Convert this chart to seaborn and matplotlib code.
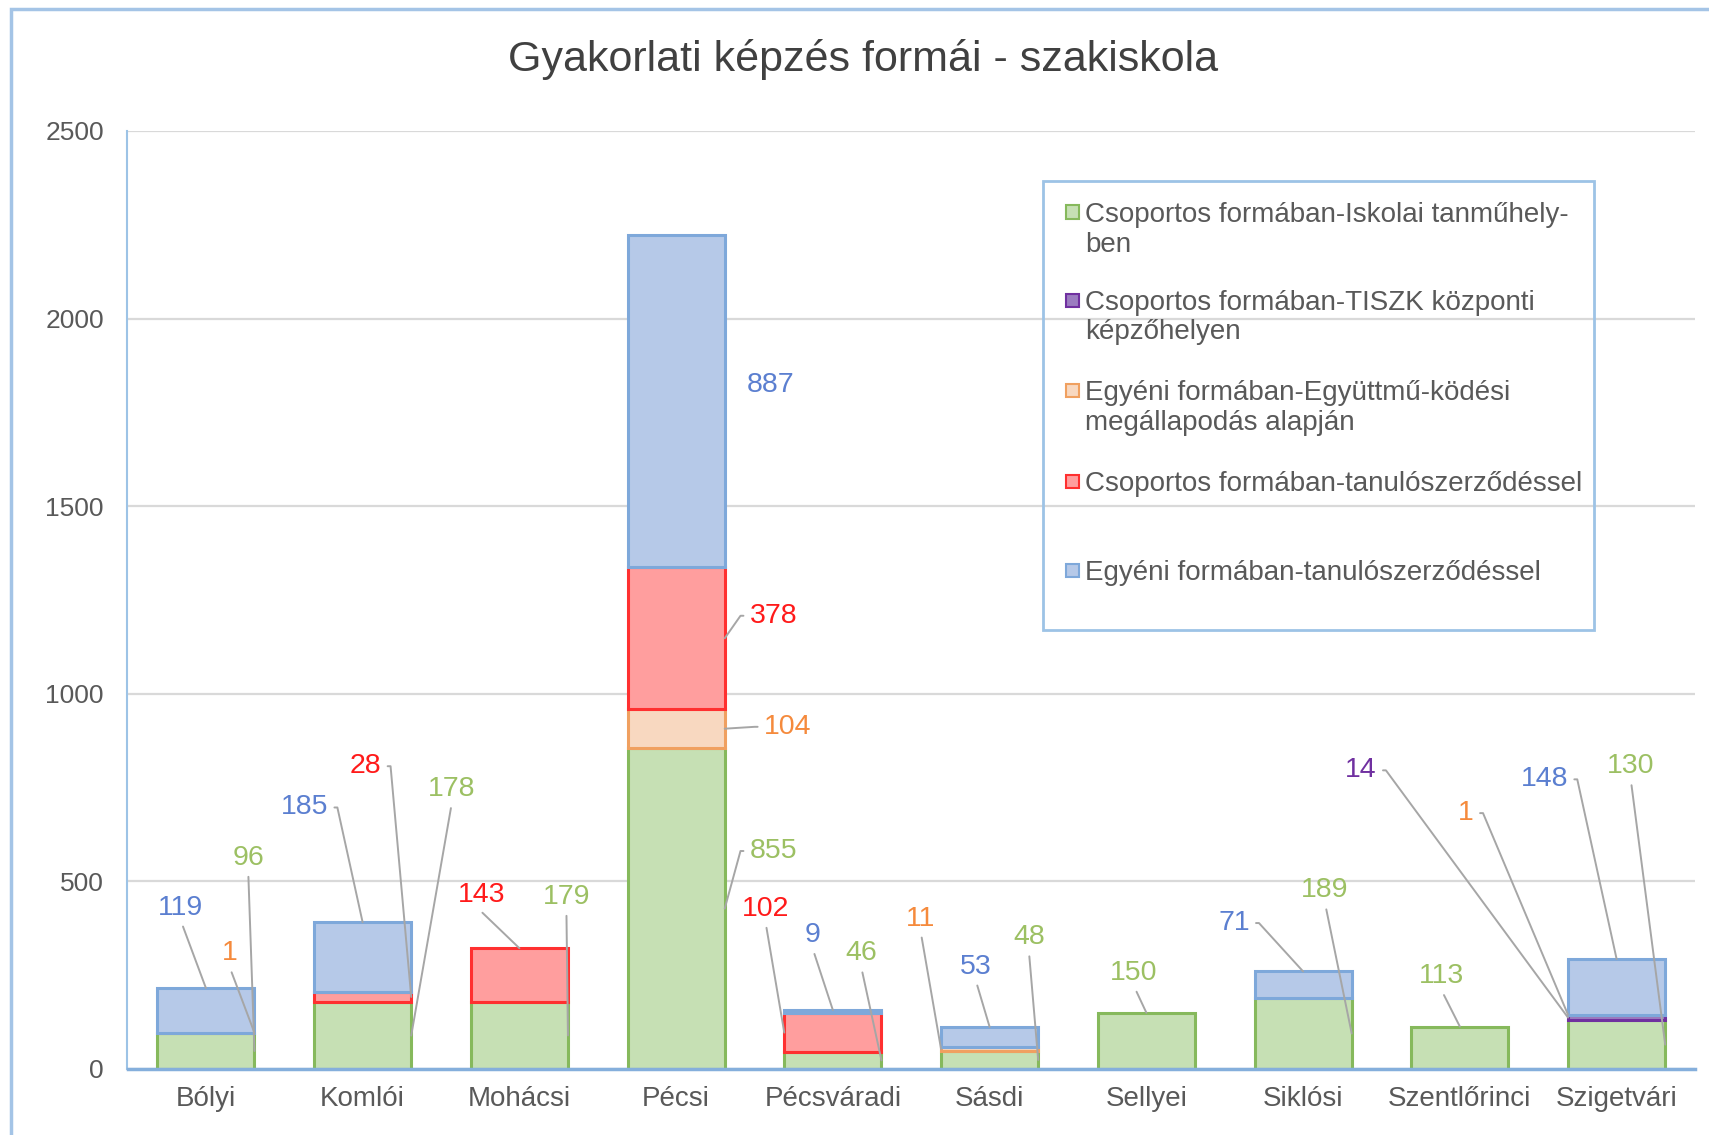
import numpy as np
import pandas as pd
import seaborn as sns
import matplotlib.pyplot as plt
from matplotlib.patches import Rectangle

CATEGORIES = ["Bólyi", "Komlói", "Mohácsi", "Pécsi", "Pécsváradi",
              "Sásdi", "Sellyei", "Siklósi", "Szentlőrinci", "Szigetvári"]
SERIES = [
    "Csoportos formában-Iskolai tanműhely-\nben",
    "Csoportos formában-TISZK központi\nképzőhelyen",
    "Egyéni formában-Együttmű-ködési\nmegállapodás alapján",
    "Csoportos formában-tanulószerződéssel",
    "Egyéni formában-tanulószerződéssel",
]
ISKOLAI = [96, 178, 179, 855, 46, 48, 150, 189, 113, 130]
TISZK = [0, 0, 0, 0, 0, 0, 0, 0, 0, 14]
EGYUTTMUKODESI = [1, 0, 0, 104, 0, 11, 0, 0, 0, 1]
CSOPORTOS_TSZ = [0, 28, 143, 378, 102, 0, 0, 0, 0, 0]
EGYENI_TSZ = [119, 185, 0, 887, 9, 53, 0, 71, 0, 148]
LAYERS = [ISKOLAI, TISZK, EGYUTTMUKODESI, CSOPORTOS_TSZ, EGYENI_TSZ]

FILLS = ["#c6e0b4", "#9b7cc0", "#f8d8c0", "#ff9e9e", "#b6c9e8"]
EDGES = ["#86b95c", "#7030a0", "#f0a060", "#ff3030", "#7ea8da"]
TEXT_COLORS = ["#9cc063", "#7030a0", "#f58a3c", "#ff1a1a", "#5b7fd0"]

# label layout: (category, series, label x, label y, anchor, relpos, stub angle)
LABEL_LAYOUT = [
    (0, 4, -0.16, 430, "top", (0.5, 0), None),
    (0, 2, 0.15, 308, "right", (0.5, 0), None),
    (0, 0, 0.27, 563, "right", (0.5, 0), None),
    (1, 4, 0.63, 697, "top", (1, 0.5), 0),
    (1, 3, 1.02, 807, "right", (1, 0.5), 0),
    (1, 0, 1.57, 746, "right", (0.5, 0), None),
    (2, 3, 1.76, 465, "top", (0.4, 0), None),
    (2, 0, 2.30, 459, "right", (0.5, 0), None),
    (3, 4, 3.60, 1824, None, None, None),
    (3, 3, 3.62, 1208, "right", (0, 0.5), 180),
    (3, 2, 3.71, 912, "right", (0, 0.5), 180),
    (3, 0, 3.62, 581, "right", (0, 0.5), 180),
    (4, 3, 3.57, 427, "left", (0.5, 0), None),
    (4, 4, 3.87, 357, "top", (0.5, 0), None),
    (4, 0, 4.18, 308, "right", (0.5, 0), None),
    (5, 2, 4.56, 401, "left", (0.5, 0), None),
    (5, 4, 4.91, 273, "top", (0.5, 0), None),
    (5, 0, 5.25, 351, "right", (0.5, 0), None),
    (6, 0, 5.92, 256, "top", (0.5, 0), None),
    (7, 4, 6.56, 389, "top", (1, 0.5), 0),
    (7, 0, 7.14, 476, "right", (0.5, 0), None),
    (8, 0, 7.88, 247, "top", (0.5, 0), None),
    (9, 1, 7.37, 796, "left", (1, 0.5), 0),
    (9, 2, 8.04, 682, "left", (1, 0.5), 0),
    (9, 4, 8.54, 772, "top", (1, 0.5), 0),
    (9, 0, 9.09, 807, "right", (0.5, 0), None),
]

W, H = 1709, 1135
BAR_W = 0.62

sns.set_theme(style="white")
plt.rcParams["font.family"] = ["Liberation Sans", "DejaVu Sans"]

fig = plt.figure(figsize=(W / 100, H / 100), dpi=100)
ax = fig.add_axes([127.5 / W, 1 - 1069 / H, (1695 - 127.5) / W, (1069 - 131) / H])

bottom = np.zeros(len(CATEGORIES))
bottoms = []
for vals, fill, edge in zip(LAYERS, FILLS, EDGES):
    df = pd.DataFrame({"Iskola": CATEGORIES, "Létszám": vals})
    sns.barplot(data=df, x="Iskola", y="Létszám", order=CATEGORIES, color=fill,
                edgecolor=edge, linewidth=2.2, width=BAR_W, saturation=1,
                errorbar=None, bottom=bottom, ax=ax)
    for patch, v in zip(ax.containers[-1], vals):
        if v == 0:
            patch.set_visible(False)
    bottoms.append(bottom.copy())
    bottom = bottom + np.array(vals)

ax.set_xlim(-0.5, len(CATEGORIES) - 0.5)
ax.set_ylim(0, 2500)
ax.set_yticks(range(0, 2501, 500))
ax.set_xlabel("")
ax.set_ylabel("")
ax.yaxis.grid(True, color="#d9d9d9", linewidth=1.6)
ax.set_axisbelow(True)
ax.tick_params(axis="y", length=0, pad=17, labelsize=19, labelcolor="#595959")
ax.tick_params(axis="x", length=0, pad=12, labelsize=20, labelcolor="#595959")
for side in ["top", "right"]:
    ax.spines[side].set_visible(False)
ax.spines["left"].set_color("#9dc3e6")
ax.spines["left"].set_linewidth(1.5)
ax.spines["bottom"].set_color("#85afdc")
ax.spines["bottom"].set_linewidth(2.5)

for ci, si, lx, ly, anchor, relpos, stub in LABEL_LAYOUT:
    v = LAYERS[si][ci]
    b = bottoms[si][ci]
    if anchor == "top":
        xy = (ci, b + v)
    elif anchor == "right":
        xy = (ci + BAR_W / 2, b + v / 2)
    elif anchor == "left":
        xy = (ci - BAR_W / 2, b + v / 2)
    else:
        xy = (lx, ly)
    props = None
    if anchor is not None:
        cs = "arc3,rad=0"
        if stub is not None:
            cs = f"arc,angleA={stub},angleB=90,armA=9,armB=0,rad=0"
        props = dict(arrowstyle="-", color="#a6a6a6", lw=1.4, shrinkA=2,
                     shrinkB=0, relpos=relpos, connectionstyle=cs)
    ax.annotate(str(v), xy=xy, xytext=(lx, ly), textcoords="data",
                ha="center", va="center", fontsize=20.5,
                color=TEXT_COLORS[si], arrowprops=props)

fig.text(863 / W, 1 - 60 / H, "Gyakorlati képzés formái - szakiskola",
         ha="center", va="center", fontsize=31, color="#404040")

# legend box
fig.patches.append(Rectangle((1043 / W, 1 - 630 / H), (1594 - 1043) / W,
                             (630 - 181) / H, transform=fig.transFigure,
                             fill=False, edgecolor="#9dc3e6", linewidth=2))
for label, fill, edge, yc in zip(SERIES, FILLS, EDGES, [212, 300, 390, 481, 570]):
    fig.patches.append(Rectangle((1066 / W, 1 - (yc + 6.5) / H), 13 / W, 13 / H,
                                 transform=fig.transFigure, facecolor=fill,
                                 edgecolor=edge, linewidth=1.5))
    for k, line in enumerate(label.split("\n")):
        fig.text(1085 / W, 1 - (yc + 10 + 29.5 * k) / H, line, ha="left",
                 va="baseline", fontsize=20, color="#595959")

# chart frame
fig.patches.append(Rectangle((11 / W, -0.05), 1.1, 1 - 9 / H + 0.05,
                             transform=fig.transFigure, fill=False,
                             edgecolor="#a4c4e6", linewidth=2.5))

fig.savefig("out.png", dpi=100)
